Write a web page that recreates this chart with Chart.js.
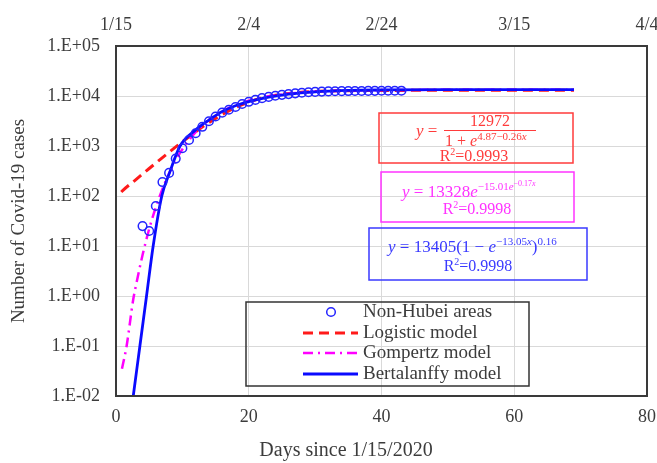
<!DOCTYPE html>
<html>
<head>
<meta charset="utf-8">
<script src="https://cdn.jsdelivr.net/npm/chart.js@4.4.0/dist/chart.umd.min.js"></script>
<style>
  html, body { margin: 0; padding: 0; background: #fff; }
</style>
</head>
<body>
<canvas id="chart" width="657" height="463"></canvas>
<script>
// Observed cases (non-Hubei areas), day 0 = 1/15/2020
const days = [4, 5, 6, 7, 8, 9, 10, 11, 12, 13, 14, 15, 16, 17, 18, 19, 20, 21, 22, 23,
  24, 25, 26, 27, 28, 29, 30, 31, 32, 33, 34, 35, 36, 37, 38, 39, 40, 41, 42, 43];
const cases = [25, 20, 63, 190, 290, 560, 900, 1320, 1800, 2420, 3130, 3890, 4640, 5310, 6030, 6920, 7650, 8350, 9050, 9590,
  10100, 10540, 10910, 11290, 11600, 11870, 12090, 12250, 12370, 12450, 12500, 12550, 12590, 12620, 12650, 12680, 12710, 12730, 12750, 12770];

// Model curves
const logisticDays = [0.8, 1, 3, 5, 7, 9, 11, 13, 15, 17, 20, 23, 26, 30, 35, 40, 50, 69];
const logisticCases = [120, 128, 213, 355, 585, 960, 1530, 2390, 3560, 5050, 7550, 9750, 11270, 12320, 12790, 12920, 12970, 12972];

const gompertzDays = [0.9, 1.6, 2.6, 3, 4, 5, 6, 7, 8, 9, 10, 12, 14, 16, 18, 20, 23, 26, 30, 35, 40, 50, 69];
const gompertzCases = [0.035, 0.1, 0.86, 1.6, 6.6, 22, 59, 139, 283, 517, 860, 1890, 3320, 4960, 6590, 8080, 9870, 11130, 12160, 12820, 13110, 13290, 13325];

const bertalanffyDays = [2.6, 3.6, 4.6, 5.6, 6.9, 8.1, 9.65, 12, 14, 16, 18, 20, 23, 26, 30, 35, 40, 50, 69];
const bertalanffyCases = [0.01, 0.1, 1, 10, 100, 300, 1000, 2100, 3300, 4900, 6400, 7700, 9500, 10900, 12100, 12900, 13200, 13380, 13405];

const dateLabels = ['1/15', '2/4', '2/24', '3/15', '4/4'];
const yExponents = [-2, -1, 0, 1, 2, 3, 4, 5];

const serif = "'Liberation Serif', 'Times New Roman', serif";
const textColor = '#3c3c3c';

function toPoints(xs, ys) {
  return xs.map((x, i) => ({ x: x, y: ys[i] }));
}

function runsWidth(ctx, runs) {
  let w = 0;
  runs.forEach(r => {
    ctx.font = (r.i ? 'italic ' : '') + r.size + 'px ' + serif;
    w += ctx.measureText(r.t).width;
  });
  return w;
}

function drawRuns(ctx, runs, x, y) {
  ctx.textAlign = 'left';
  ctx.textBaseline = 'alphabetic';
  runs.forEach(r => {
    ctx.font = (r.i ? 'italic ' : '') + r.size + 'px ' + serif;
    ctx.fillText(r.t, x, y - (r.dy || 0));
    x += ctx.measureText(r.t).width;
  });
}

function drawCentered(ctx, runs, cx, y) {
  drawRuns(ctx, runs, cx - runsWidth(ctx, runs) / 2, y);
}

function r2(text) {
  return [{ t: 'R', size: 16 }, { t: '2', size: 10, dy: 6 }, { t: '=' + text, size: 16 }];
}

// no extra room for overflowing edge labels
function fixPadding(s) {
  s.paddingLeft = 0;
  s.paddingRight = 0;
}

// Frame, x title, legend and fitted equations
const decorations = {
  id: 'decorations',
  afterDatasetsDraw(chart) {
    const ctx = chart.ctx;
    const area = chart.chartArea;
    ctx.save();

    // plot frame
    ctx.strokeStyle = '#3a3a3a';
    ctx.lineWidth = 2;
    ctx.strokeRect(area.left, area.top, area.right - area.left, area.bottom - area.top);

    // x title
    ctx.fillStyle = textColor;
    ctx.font = '20px ' + serif;
    ctx.textAlign = 'center';
    ctx.textBaseline = 'middle';
    ctx.fillText('Days since 1/15/2020', 346, 451);

    // legend
    ctx.strokeStyle = '#333';
    ctx.lineWidth = 1.5;
    ctx.strokeRect(246, 302, 283, 84);
    const rows = [312, 333, 353, 374];
    chart.data.datasets.forEach((ds, i) => {
      const y = rows[i];
      ctx.save();
      if (ds.showLine === false) {
        ctx.strokeStyle = ds.borderColor;
        ctx.lineWidth = ds.borderWidth;
        ctx.beginPath();
        ctx.arc(331, y, ds.pointRadius, 0, Math.PI * 2);
        ctx.stroke();
      } else {
        ctx.strokeStyle = ds.borderColor;
        ctx.lineWidth = ds.borderWidth;
        ctx.setLineDash(ds.borderDash || []);
        ctx.beginPath();
        ctx.moveTo(303, y);
        ctx.lineTo(358, y);
        ctx.stroke();
      }
      ctx.restore();
      ctx.fillStyle = textColor;
      ctx.font = '19px ' + serif;
      ctx.textAlign = 'left';
      ctx.textBaseline = 'middle';
      ctx.fillText(ds.label, 363, y);
    });

    // logistic equation
    let c = '#ff3b3b';
    ctx.strokeStyle = c;
    ctx.fillStyle = c;
    ctx.lineWidth = 1.5;
    ctx.strokeRect(379, 113, 194, 50);
    drawRuns(ctx, [{ t: 'y', i: 1, size: 17 }, { t: ' =', size: 17 }], 416, 136);
    drawCentered(ctx, [{ t: '12972', size: 16 }], 490, 126);
    ctx.lineWidth = 1;
    ctx.beginPath();
    ctx.moveTo(444, 130.5);
    ctx.lineTo(536, 130.5);
    ctx.stroke();
    drawRuns(ctx, [{ t: '1 + ', size: 16 }, { t: 'e', i: 1, size: 16 },
      { t: '4.87−0.26', size: 11, dy: 6 }, { t: 'x', i: 1, size: 11, dy: 6 }], 445, 146);
    drawCentered(ctx, r2('0.9993'), 474, 161);

    // gompertz equation
    c = '#ff33ff';
    ctx.strokeStyle = c;
    ctx.fillStyle = c;
    ctx.lineWidth = 1.5;
    ctx.strokeRect(381, 172, 193, 50);
    drawRuns(ctx, [{ t: 'y', i: 1, size: 17 }, { t: ' = 13328', size: 17 }, { t: 'e', i: 1, size: 17 },
      { t: '−15.01', size: 11, dy: 7 }, { t: 'e', i: 1, size: 11, dy: 7 },
      { t: '−0.17', size: 8, dy: 11 }, { t: 'x', i: 1, size: 8, dy: 11 }], 402, 197);
    drawCentered(ctx, r2('0.9998'), 477, 214);

    // bertalanffy equation
    c = '#3a3aff';
    ctx.strokeStyle = c;
    ctx.fillStyle = c;
    ctx.lineWidth = 1.5;
    ctx.strokeRect(369, 228, 218, 52);
    drawRuns(ctx, [{ t: 'y', i: 1, size: 17 }, { t: ' = 13405(1 − ', size: 17 }, { t: 'e', i: 1, size: 17 },
      { t: '−13.05', size: 11, dy: 7 }, { t: 'x', i: 1, size: 11, dy: 7 },
      { t: ')', size: 17 }, { t: '0.16', size: 11, dy: 7 }], 388, 252);
    drawCentered(ctx, r2('0.9998'), 478, 271);

    ctx.restore();
  }
};

const tickFont = { family: serif, size: 18 };

new Chart(document.getElementById('chart'), {
  type: 'scatter',
  data: {
    datasets: [
      {
        label: 'Non-Hubei areas',
        data: toPoints(days, cases),
        showLine: false,
        borderColor: '#2424ff',
        backgroundColor: 'rgba(0,0,0,0)',
        borderWidth: 1.5,
        pointRadius: 4.3,
        order: 0
      },
      {
        label: 'Logistic model',
        data: toPoints(logisticDays, logisticCases),
        showLine: true,
        borderColor: '#ff1a1a',
        borderWidth: 3,
        borderDash: [10, 6],
        pointRadius: 0,
        cubicInterpolationMode: 'monotone',
        order: 3
      },
      {
        label: 'Gompertz model',
        data: toPoints(gompertzDays, gompertzCases),
        showLine: true,
        borderColor: '#ff00ff',
        borderWidth: 2.5,
        borderDash: [10, 5, 2, 5],
        pointRadius: 0,
        cubicInterpolationMode: 'monotone',
        order: 2
      },
      {
        label: 'Bertalanffy model',
        data: toPoints(bertalanffyDays, bertalanffyCases),
        showLine: true,
        borderColor: '#0a0aff',
        borderWidth: 2.8,
        pointRadius: 0,
        cubicInterpolationMode: 'monotone',
        order: 1
      }
    ]
  },
  options: {
    responsive: false,
    animation: false,
    layout: { padding: { right: 10 } },
    plugins: {
      legend: { display: false },
      tooltip: { enabled: false }
    },
    scales: {
      x: {
        type: 'linear',
        position: 'bottom',
        min: 0,
        max: 80,
        ticks: { stepSize: 20, font: tickFont, color: textColor, padding: 10 },
        grid: { color: '#d9d9d9', drawTicks: false },
        border: { display: false },
        afterFit: s => { s.height = 67; fixPadding(s); }
      },
      x2: {
        type: 'linear',
        position: 'top',
        min: 0,
        max: 80,
        ticks: {
          stepSize: 20,
          font: tickFont,
          color: textColor,
          padding: 10,
          callback: v => dateLabels[v / 20]
        },
        grid: { display: false, drawTicks: false },
        border: { display: false },
        afterFit: s => { s.height = 46; fixPadding(s); }
      },
      y: {
        type: 'logarithmic',
        min: 0.01,
        max: 100000,
        afterBuildTicks: s => { s.ticks = yExponents.map(e => ({ value: Math.pow(10, e) })); },
        ticks: {
          font: tickFont,
          color: textColor,
          padding: 16,
          callback: v => {
            const e = Math.round(Math.log10(v));
            return '1.E' + (e < 0 ? '-' : '+') + String(Math.abs(e)).padStart(2, '0');
          }
        },
        grid: { color: '#d9d9d9', drawTicks: false },
        border: { display: false },
        title: {
          display: true,
          text: 'Number of Covid-19 cases',
          font: { family: serif, size: 19 },
          color: textColor,
          padding: { top: 8, bottom: 0 }
        },
        afterFit: s => { s.width = 116; s.paddingTop = 0; s.paddingBottom = 0; }
      }
    }
  },
  plugins: [decorations]
});
</script>
</body>
</html>
